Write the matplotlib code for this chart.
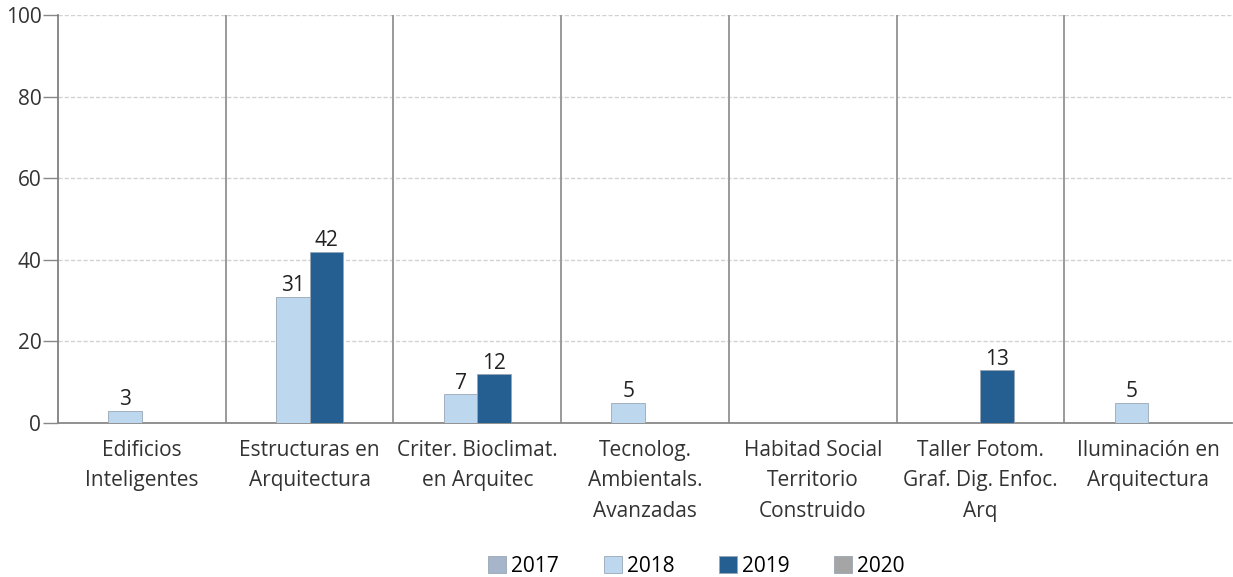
import numpy as np
import matplotlib.pyplot as plt

plt.rcParams['font.family'] = ['Open Sans', 'DejaVu Sans']

categories = ['Edificios\nInteligentes', 'Estructuras en\nArquitectura',
              'Criter. Bioclimat.\nen Arquitec', 'Tecnolog.\nAmbientals.\nAvanzadas',
              'Habitad Social\nTerritorio\nConstruido', 'Taller Fotom.\nGraf. Dig. Enfoc.\nArq',
              'Iluminación en\nArquitectura']
years = ['2017', '2018', '2019', '2020']
v2017 = [0, 0, 0, 0, 0, 0, 0]
v2018 = [3, 31, 7, 5, 0, 0, 5]
v2019 = [0, 42, 12, 0, 0, 13, 0]
v2020 = [0, 0, 0, 0, 0, 0, 0]
series = [v2017, v2018, v2019, v2020]
colors = ['#A7B5CB', '#BDD7EE', '#255E91', '#A5A5A5']

fig = plt.figure(figsize=(12.33, 5.77), dpi=100)
ax = fig.add_axes([58 / 1233, 1 - 423 / 577, (1232 - 58) / 1233, (423 - 15) / 577])

x = np.arange(len(categories))
w = 0.2
for i, (yr, vals) in enumerate(zip(years, series)):
    pos = x + (i - 1.5) * w
    vals = np.array(vals)
    ax.bar(pos, vals, width=w, color=colors[i], edgecolor='#9AA6B5',
           linewidth=0.6, label=yr, zorder=3)
    for p, v in zip(pos, vals):
        if v > 0:
            ax.text(p, v + 0.1, str(v), ha='center', va='bottom',
                    fontsize=15, color='#222222', zorder=4)

ax.set_xlim(-0.5, len(categories) - 0.5)
ax.set_ylim(0, 100)
ax.set_yticks(np.arange(0, 101, 20))
ax.yaxis.grid(True, color='#D2D2D2', linestyle=(0, (3, 1.5)), linewidth=1.0)
ax.set_axisbelow(True)
for k in range(1, len(categories)):
    ax.axvline(k - 0.5, color='#9A9A9A', linewidth=1.4, zorder=2)

ax.set_xticks(x)
ax.set_xticklabels(categories, fontsize=15, color='#333333', linespacing=1.6)
ax.tick_params(axis='x', length=0, pad=12)
ax.tick_params(axis='y', length=11, width=1, color='#888888',
               labelsize=15, labelcolor='#333333', pad=1)
for s in ['top', 'right']:
    ax.spines[s].set_visible(False)
ax.spines['left'].set_color('#808080')
ax.spines['left'].set_linewidth(1.3)
ax.spines['bottom'].set_color('#888888')
ax.spines['bottom'].set_linewidth(1.3)

fig.legend(loc='center', bbox_to_anchor=(0.565, 1 - 566 / 577), ncol=4,
           frameon=False, fontsize=15, handlelength=0.85, handleheight=0.85,
           handletextpad=0.25, columnspacing=2.15)

fig.savefig('out.png', dpi=100)
